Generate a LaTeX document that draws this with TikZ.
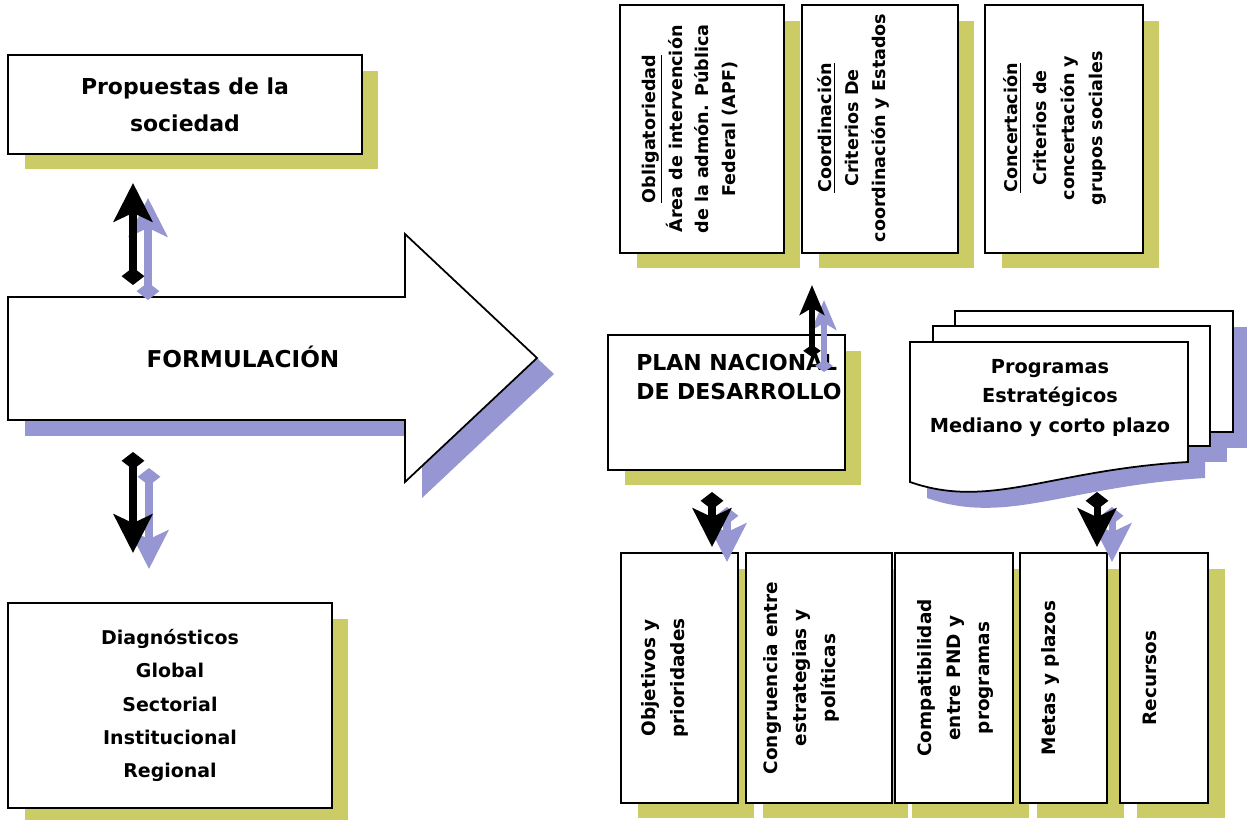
\documentclass[tikz,border=0pt]{standalone}
\usepackage{fontspec}
\setmainfont{DejaVu Sans}
\usetikzlibrary{arrows.meta,shadows,calc}
\definecolor{olivo}{RGB}{204,204,102}
\definecolor{azulsombra}{RGB}{150,150,210}

\begin{document}
\begin{tikzpicture}[x=0.02cm,y=-0.02cm,
    caja/.style={draw, fill=white, line width=1.2pt, inner sep=0pt, align=center,
        general shadow={fill=olivo, shadow xshift=0.33cm, shadow yshift=-0.31cm}},
    texto/.style={inner sep=0pt, align=center},
    vtexto/.style={inner sep=0pt, align=center, rotate=90},
    flecha/.style={line width=4pt, {Diamond[length=10pt,width=13pt]}-{Stealth[length=22pt,width=22pt,inset=5pt]}},
    flechac/.style={line width=3.2pt, {Diamond[length=7pt,width=10pt]}-{Stealth[length=17pt,width=14pt,inset=4pt]}}]
    \useasboundingbox(0,0)rectangle(1247,820);

    \node[caja, minimum width=7.08cm, minimum height=1.98cm, font=\bfseries\fontsize{12.5}{21}\selectfont](prop)at(185,104.5){Propuestas de la\\sociedad};
    \node[caja, minimum width=6.48cm, minimum height=4.10cm, font=\bfseries\fontsize{10.8}{19}\selectfont](diag)at(170,705.5){Diagnósticos\\Global\\Sectorial\\Institucional\\Regional};

    \fill[azulsombra,shift={(17,16)}](8,297)--(405,297)--(405,234)--(537,358)--(405,482)--(405,420)--(8,420)--cycle;
    \draw[fill=white,line width=1pt](8,297)--(405,297)--(405,234)--(537,358)--(405,482)--(405,420)--(8,420)--cycle;
    \node[texto, font=\bfseries\fontsize{13.2}{16}\selectfont](form)at(243,357){FORMULACIÓN};

    \coordinate(a1)at(133,285);\coordinate(b1)at(133,183);
    \draw[flecha,azulsombra]($(a1)+(15,15)$)--($(b1)+(15,15)$);
    \draw[flecha](a1)--(b1);
    \coordinate(a2)at(133,452);\coordinate(b2)at(133,553);
    \draw[flecha,azulsombra]($(a2)+(16,16)$)--($(b2)+(16,16)$);
    \draw[flecha](a2)--(b2);

    \node[caja, minimum width=3.28cm, minimum height=4.96cm](obl)at(702,129){};
    \node[vtexto, font=\bfseries\fontsize{10}{15.3}\selectfont](oblt)at($(obl.center)+(-12,0)$){\underline{Obligatoriedad}\\Área de intervención\\de la admón. Pública\\Federal (APF)};
    \node[caja, minimum width=3.12cm, minimum height=4.96cm](coo)at(880,129){};
    \node[vtexto, font=\bfseries\fontsize{10}{15.3}\selectfont](coot)at($(coo.center)+(-26.5,-1)$){\underline{Coordinación}\\Criterios De\\coordinación y Estados};
    \node[caja, minimum width=3.16cm, minimum height=4.96cm](con)at(1064,129){};
    \node[vtexto, font=\bfseries\fontsize{10}{16}\selectfont](cont)at($(con.center)+(-9,-1)$){\underline{Concertación}\\Criterios de\\concertación y\\grupos sociales};

    \node[caja, minimum width=4.74cm, minimum height=2.70cm](plan)at(726.5,402.5){};
    \node[texto, anchor=west, align=left, font=\bfseries\fontsize{12.5}{17}\selectfont](plant)at(636,377){PLAN NACIONAL\\DE DESARROLLO};

    \fill[azulsombra](972,327)rectangle(1250,448);
    \fill[azulsombra](950,342)rectangle(1227,462);
    \fill[azulsombra,shift={(17,16)}](910,342)--(1188,342)--(1188,462)..controls(1050,470)and(990,510)..(910,482)--cycle;
    \draw[fill=white,line width=1pt](955,311)rectangle(1233,432);
    \draw[fill=white,line width=1pt](933,326)rectangle(1210,446);
    \draw[fill=white,line width=1pt](910,342)--(1188,342)--(1188,462)..controls(1050,470)and(990,510)..(910,482)--cycle;
    \node[texto, font=\bfseries\fontsize{11}{17}\selectfont](prog)at(1050,398){Programas\\Estratégicos\\Mediano y corto plazo};

    \node[caja, minimum width=2.34cm, minimum height=5cm](obj)at(679.5,678){};
    \node[vtexto, font=\bfseries\fontsize{10.5}{16.5}\selectfont](objt)at($(obj.center)+(-14.5,0)$){Objetivos y\\prioridades};
    \node[caja, minimum width=2.92cm, minimum height=5cm](cong)at(819,678){};
    \node[vtexto, font=\bfseries\fontsize{10.5}{16.5}\selectfont](congt)at($(cong.center)+(-18,0)$){Congruencia entre\\estrategias y\\políticas};
    \node[caja, minimum width=2.36cm, minimum height=5cm](comp)at(954,678){};
    \node[vtexto, font=\bfseries\fontsize{10.5}{16.5}\selectfont](compt)at($(comp.center)+(1,0)$){Compatibilidad\\entre PND y\\programas};
    \node[caja, minimum width=1.74cm, minimum height=5cm](meta)at(1063.5,678){};
    \node[vtexto, font=\bfseries\fontsize{10.5}{16.5}\selectfont](metat)at($(meta.center)+(-13.5,0)$){Metas y plazos};
    \node[caja, minimum width=1.76cm, minimum height=5cm](recu)at(1164,678){};
    \node[vtexto, font=\bfseries\fontsize{10.5}{16.5}\selectfont](recut)at($(recu.center)+(-14,0)$){Recursos};

    \coordinate(a3)at(812,357);\coordinate(b3)at(812,285);
    \draw[flechac,azulsombra]($(a3)+(12,15)$)--($(b3)+(12,15)$);
    \draw[flechac](a3)--(b3);
    \coordinate(a4)at(712,492);\coordinate(b4)at(712,547);
    \draw[flecha,azulsombra]($(a4)+(15,15)$)--($(b4)+(15,15)$);
    \draw[flecha](a4)--(b4);
    \coordinate(a5)at(1097,492);\coordinate(b5)at(1097,547);
    \draw[flecha,azulsombra]($(a5)+(15,15)$)--($(b5)+(15,15)$);
    \draw[flecha](a5)--(b5);
\end{tikzpicture}
\end{document}
